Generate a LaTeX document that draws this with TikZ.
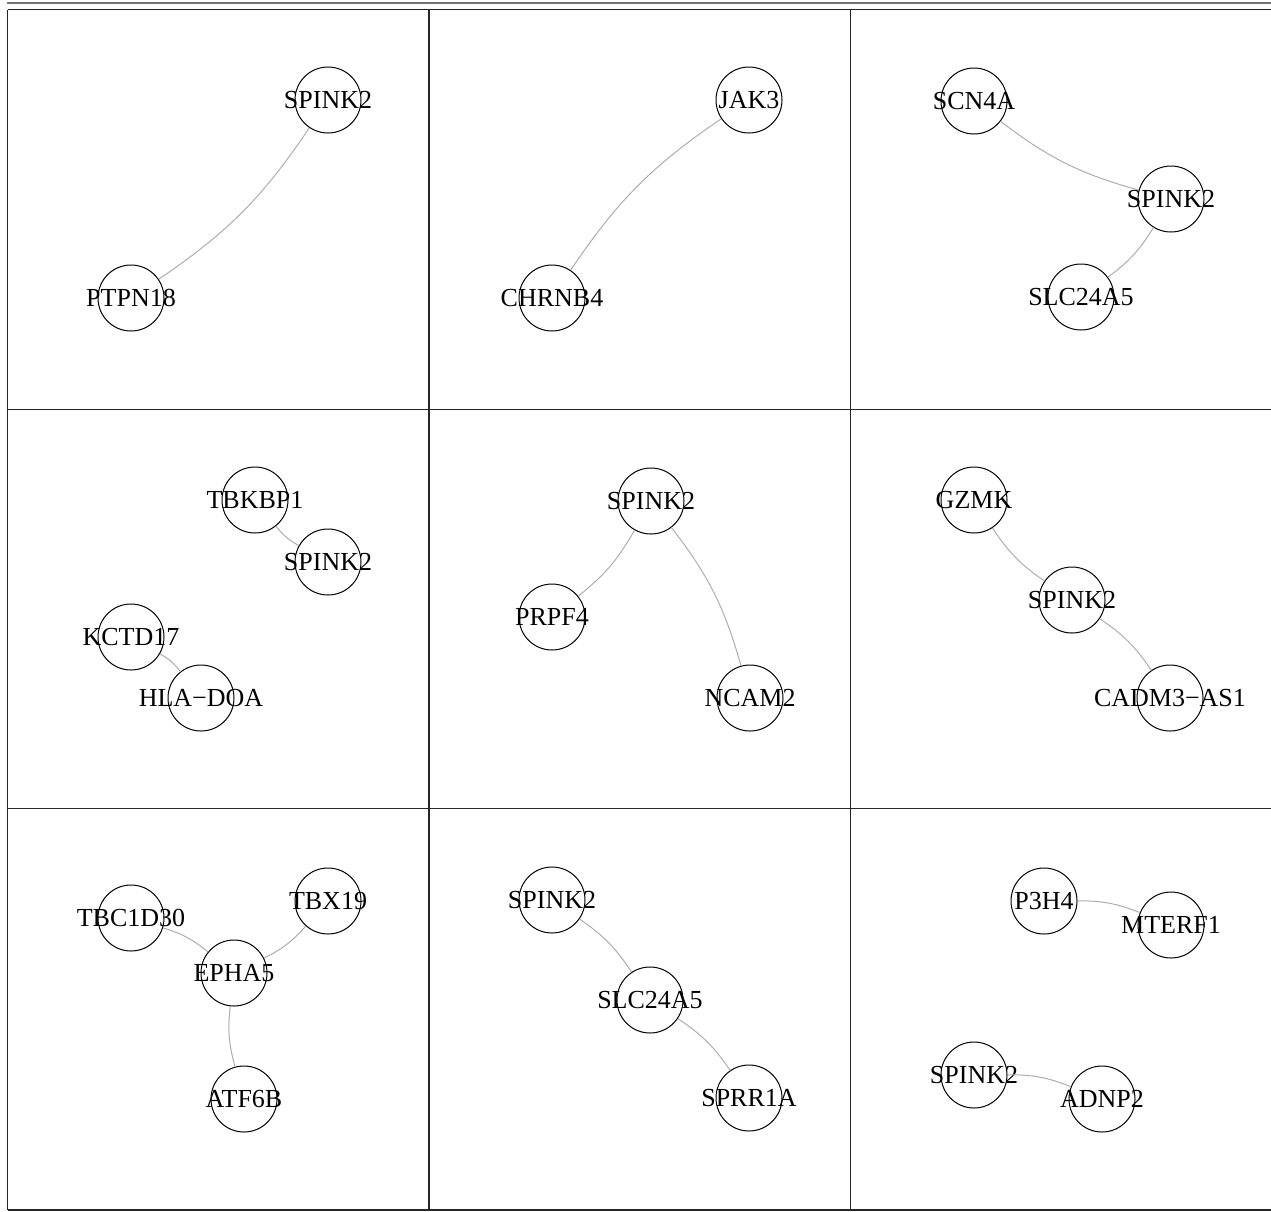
\documentclass[tikz,border=0pt]{standalone}
\usepackage{fontspec}
\setmainfont{Liberation Serif}
\begin{document}
\begin{tikzpicture}[x=1pt,y=-1pt,
  gnode/.style={circle, draw=black, line width=1pt, minimum size=66pt, inner sep=0pt},
  every label/.style={inner sep=0pt, font=\fontsize{26}{26}\selectfont},
  gedge/.style={draw=black!32, line width=1pt, bend left=11},
  frameline/.style={draw=black!85, line width=1.5pt}]
\useasboundingbox (0,0) rectangle (1271,1211);
% top rule and panel frame
\draw[draw=black!55, line width=2pt] (7,3) -- (1271,3);
\draw[frameline] (7.5,9.5) -- (1271,9.5);
\draw[frameline] (7.5,409.3) -- (1271,409.3);
\draw[frameline] (7.5,808.5) -- (1271,808.5);
\draw[frameline] (7.5,1210) -- (1271,1210);
\draw[frameline] (7.5,9.5) -- (7.5,1210);
\draw[frameline] (429,9.5) -- (429,1210);
\draw[frameline] (850.5,9.5) -- (850.5,1210);
% panel 1
\node[gnode, label=center:SPINK2] (p1s) at (328,100) {};
\node[gnode, label=center:PTPN18] (p1p) at (131,298) {};
\draw[gedge] (p1s) to (p1p);
% panel 2
\node[gnode, label=center:JAK3] (p2j) at (749,100) {};
\node[gnode, label=center:CHRNB4] (p2c) at (552,298) {};
\draw[gedge] (p2c) to (p2j);
% panel 3
\node[gnode, label=center:SCN4A] (p3a) at (974,101) {};
\node[gnode, label=center:SPINK2] (p3s) at (1171,199) {};
\node[gnode, label=center:SLC24A5] (p3l) at (1081,297) {};
\draw[gedge] (p3s) to (p3a);
\draw[gedge] (p3s) to (p3l);
% panel 4
\node[gnode, label=center:TBKBP1] (p4t) at (255,500) {};
\node[gnode, label=center:SPINK2] (p4s) at (328,562) {};
\node[gnode, label=center:KCTD17] (p4k) at (131,637) {};
\node[gnode, label=center:HLA−DOA] (p4h) at (201,698) {};
\draw[gedge] (p4s) to (p4t);
\draw[gedge] (p4k) to (p4h);
% panel 5
\node[gnode, label=center:SPINK2] (p5s) at (651,501) {};
\node[gnode, label=center:PRPF4] (p5p) at (552,617) {};
\node[gnode, label=center:NCAM2] (p5n) at (750,698) {};
\draw[gedge] (p5s) to (p5p);
\draw[gedge] (p5s) to (p5n);
% panel 6
\node[gnode, label=center:GZMK] (p6g) at (974,500) {};
\node[gnode, label=center:SPINK2] (p6s) at (1072,600) {};
\node[gnode, label=center:CADM3−AS1] (p6c) at (1170,698) {};
\draw[gedge] (p6s) to (p6g);
\draw[gedge] (p6s) to (p6c);
% panel 7
\node[gnode, label=center:TBC1D30] (p7t) at (131,918) {};
\node[gnode, label=center:TBX19] (p7x) at (328,901) {};
\node[gnode, label=center:EPHA5] (p7e) at (234,973) {};
\node[gnode, label=center:ATF6B] (p7a) at (244,1099) {};
\draw[gedge] (p7t) to (p7e);
\draw[gedge] (p7x) to (p7e);
\draw[gedge] (p7a) to (p7e);
% panel 8
\node[gnode, label=center:SPINK2] (p8s) at (552,900) {};
\node[gnode, label=center:SLC24A5] (p8l) at (650,1000) {};
\node[gnode, label=center:SPRR1A] (p8r) at (749,1098) {};
\draw[gedge] (p8s) to (p8l);
\draw[gedge] (p8l) to (p8r);
% panel 9
\node[gnode, label=center:P3H4] (p9p) at (1044,901) {};
\node[gnode, label=center:MTERF1] (p9m) at (1171,925) {};
\node[gnode, label=center:SPINK2] (p9s) at (974,1075) {};
\node[gnode, label=center:ADNP2] (p9a) at (1102,1099) {};
\draw[gedge] (p9p) to (p9m);
\draw[gedge] (p9s) to (p9a);
\end{tikzpicture}
\end{document}
